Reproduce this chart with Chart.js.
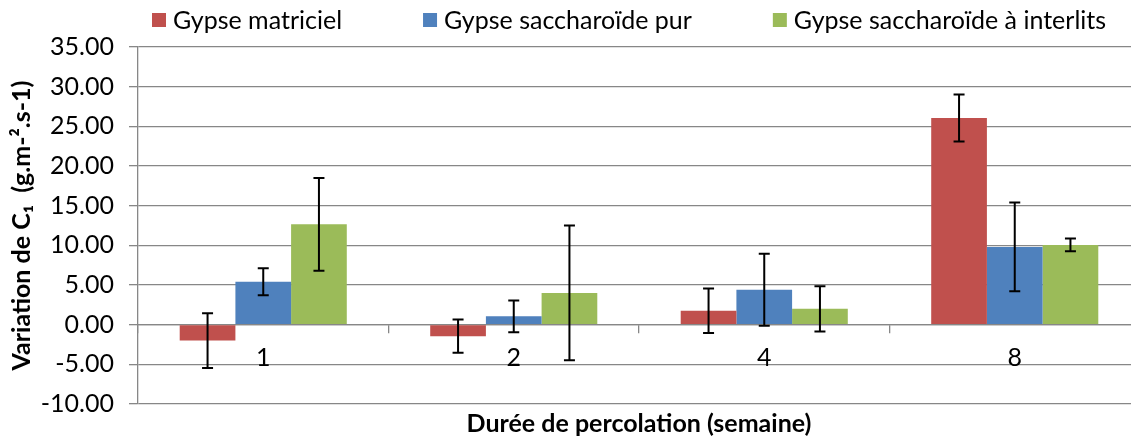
<!DOCTYPE html>
<html>
<head>
<meta charset="utf-8">
<script src="https://cdn.jsdelivr.net/npm/chart.js@4.4.0/dist/chart.umd.min.js"></script>
<style>
  html, body { margin: 0; padding: 0; background: #fff; overflow: hidden; }
  #wrap { width: 1140px; height: 441px; position: relative; }
</style>
</head>
<body>
<div id="wrap"><canvas id="percolation_chart"></canvas></div>
<script>
// DATA

const weeks = ['1', '2', '4', '8'];

const series_names = ['Gypse matriciel', 'Gypse saccharoïde pur', 'Gypse saccharoïde à interlits'];
const series_colors = ['#C0504D', '#4F81BD', '#9BBB59'];

const matriciel = [-2.0, -1.45, 1.75, 26.05];
const matriciel_err = [3.45, 2.1, 2.8, 2.95];

const pur = [5.4, 1.05, 4.4, 9.8];
const pur_err = [1.7, 2.0, 4.55, 5.6];

const interlits = [12.65, 4.0, 2.0, 10.05];
const interlits_err = [5.85, 8.5, 2.85, 0.8];

const y_min = -10, y_max = 35, y_step = 5;

const FONT = 'Lato';
const GRID = '#878787';

// ERROR BARS (value +/- err, drawn on top of the bars)

const errorBars = {
  id: 'errorBars',
  afterDatasetsDraw(chart) {
    const ctx = chart.ctx;
    const y = chart.scales.y;
    ctx.save();
    ctx.strokeStyle = '#000';
    ctx.lineWidth = 2;
    chart.data.datasets.forEach((ds, i) => {
      chart.getDatasetMeta(i).data.forEach((bar, j) => {
        const top = y.getPixelForValue(ds.data[j] + ds.errors[j]);
        const bot = y.getPixelForValue(ds.data[j] - ds.errors[j]);
        ctx.beginPath();
        ctx.moveTo(bar.x, top);
        ctx.lineTo(bar.x, bot);
        ctx.moveTo(bar.x - 5.5, top);
        ctx.lineTo(bar.x + 5.5, top);
        ctx.moveTo(bar.x - 5.5, bot);
        ctx.lineTo(bar.x + 5.5, bot);
        ctx.stroke();
      });
    });
    ctx.restore();
  }
};

// LEGEND ROW (one line above the plot)

const legendRow = {
  id: 'legendRow',
  afterDraw(chart) {
    const ctx = chart.ctx;
    ctx.save();
    ctx.font = '25px ' + FONT;
    ctx.textBaseline = 'middle';
    let x = 152;
    chart.data.datasets.forEach((ds) => {
      ctx.fillStyle = ds.backgroundColor;
      ctx.fillRect(x, 13, 14, 14);
      ctx.fillStyle = '#000';
      ctx.fillText(ds.label, x + 21, 21);
      x += 21 + ctx.measureText(ds.label).width + 81;
    });
    ctx.restore();
  }
};

const values = [matriciel, pur, interlits];
const errors = [matriciel_err, pur_err, interlits_err];

const chart = document.getElementById('percolation_chart').getContext('2d');

new Chart(chart, {
  type: 'bar',
  data: {
    labels: weeks,
    datasets: series_names.map((name, i) => ({
      label: name,
      data: values[i],
      errors: errors[i],
      backgroundColor: series_colors[i],
      borderWidth: 0,
      categoryPercentage: 0.667,
      barPercentage: 1.0,
    })),
  },
  options: {
    responsive: true,
    maintainAspectRatio: false,
    animation: false,
    layout: { padding: { top: 47, left: 0, right: 0, bottom: 0 } },
    plugins: {
      legend: { display: false },
      tooltip: { enabled: false },
    },
    scales: {
      x: {
        position: { y: 0 },
        grid: { offset: true, drawOnChartArea: false, tickLength: 8, color: GRID, lineWidth: 1.3 },
        border: { color: GRID, width: 1.3 },
        ticks: { font: { family: FONT, size: 25 }, color: '#000', padding: 10 },
        afterFit: (scale) => { scale.height = 0; },
      },
      xTitle: {
        type: 'category',
        position: 'bottom',
        grid: { display: false, drawTicks: false },
        border: { display: false },
        ticks: { display: false },
        title: {
          display: true,
          text: 'Durée de percolation (semaine)',
          font: { family: FONT, size: 25, weight: 'bold' },
          color: '#000',
          padding: { top: 5, bottom: 2 },
        },
      },
      y: {
        min: y_min,
        max: y_max,
        ticks: {
          stepSize: y_step,
          callback: (v) => v.toFixed(2),
          font: { family: FONT, size: 25 },
          color: '#000',
          padding: 15,
        },
        grid: { color: GRID, lineWidth: 1.3, tickLength: 9 },
        border: { color: GRID, width: 1.3 },
        title: {
          display: true,
          text: 'Variation de C₁  (g.m-².s-1)',
          font: { family: FONT, size: 25, weight: 'bold' },
          color: '#000',
          padding: { top: 7, bottom: 0 },
        },
        afterFit: (scale) => { scale.width = 138; },
      },
    },
  },
  plugins: [errorBars, legendRow],
});
</script>
</body>
</html>
